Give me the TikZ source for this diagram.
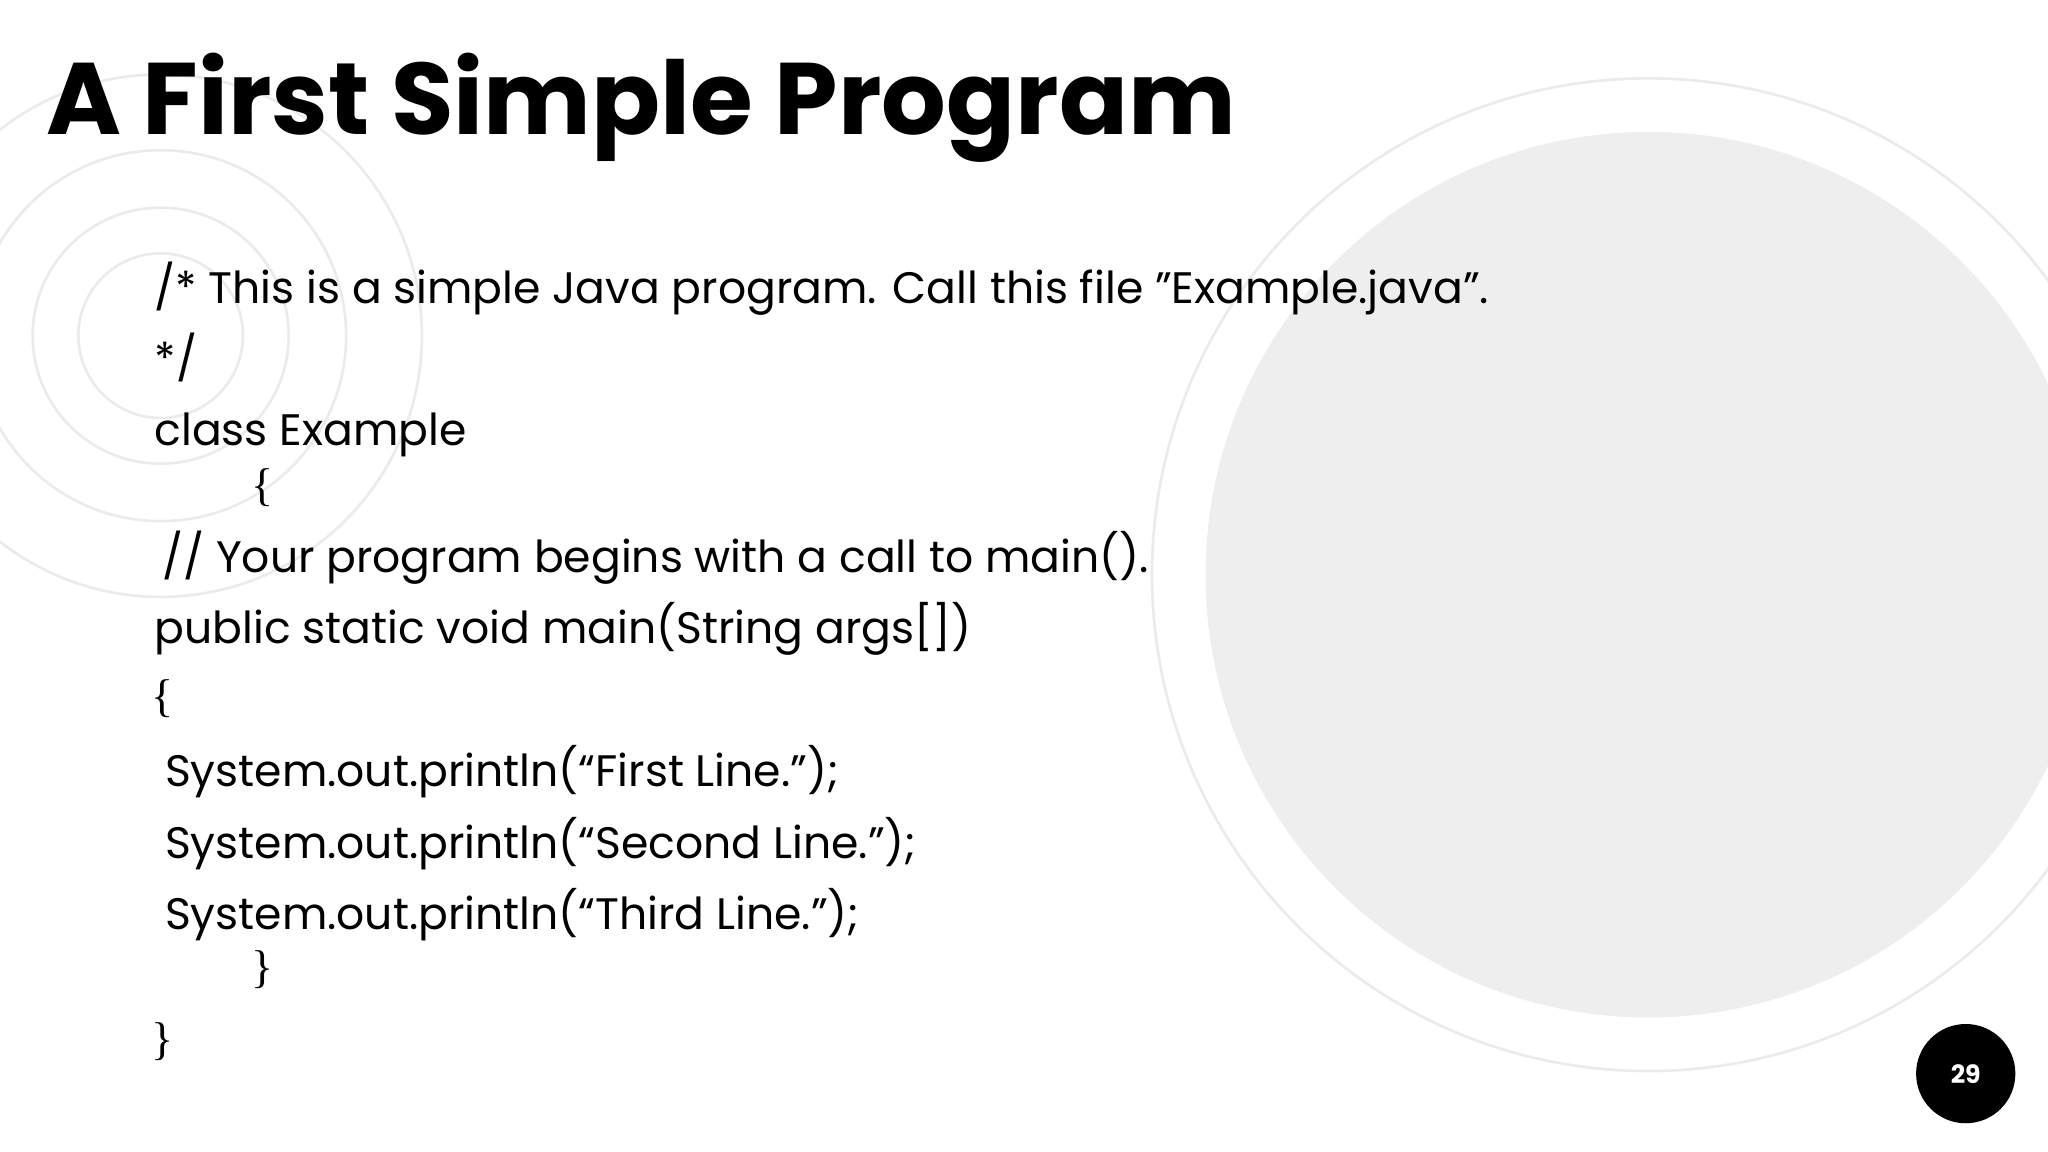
\documentclass[tikz,border=0pt]{standalone}
\usepackage{fontspec}
\setmainfont{Poppins}
\newfontfamily\bracefont{Liberation Serif}
\newcommand{\dq}{\symbol{34}}
\begin{document}
\begin{tikzpicture}[x=0.2mm,y=-0.2mm,
  ring/.style={draw=black!8,line width=0.4mm},
  code/.style={anchor=base west,inner sep=0,font=\fontsize{19.2}{22}\selectfont},
  brace/.style={anchor=base west,inner sep=0,font=\bracefont\fontsize{20}{22}\selectfont}]
\useasboundingbox (0,0) rectangle (1568,882);
\fill[white] (0,0) rectangle (1568,882);
\begin{scope}
\clip (0,0) rectangle (1568,882);
\draw[ring] (1262,440) circle (380);
\fill[black!6.5] (1262,440) circle (339);
\draw[ring] (123,257) circle (63);
\draw[ring] (123,257) circle (98);
\draw[ring] (123,257) circle (142);
\draw[ring] (123,257) circle (200);
\end{scope}
\node[anchor=base west,inner sep=0,font=\fontsize{44.3}{50}\selectfont\bfseries] (title) at (35,103) {A First Simple Program};
\node[code] (l1) at (118,232) {/* This is a simple Java program. Call this file \dq Example.java\dq.};
\node[code] (l2) at (118,287) {*/};
\node[code] (l3) at (118,341) {class Example};
\node[brace] (b1) at (192,383) {\{};
\node[code] (l4) at (124,438) {// Your program begins with a call to main().};
\node[code] (l5) at (118,493) {public static void main(String args[])};
\node[brace] (b2) at (116,545) {\{};
\node[code] (l6) at (126,602) {System.out.println(“First Line.\dq);};
\node[code] (l7) at (126,657) {System.out.println(“Second Line.\dq);};
\node[code] (l8) at (126,712) {System.out.println(“Third Line.\dq);};
\node[brace] (b3) at (192,752) {\}};
\node[brace] (b4) at (116,807) {\}};
\fill[black] (1505,822) circle (38);
\node[text=white,font=\fontsize{11}{12}\selectfont\bfseries] (pg) at (1505,822) {29};
\end{tikzpicture}
\end{document}
